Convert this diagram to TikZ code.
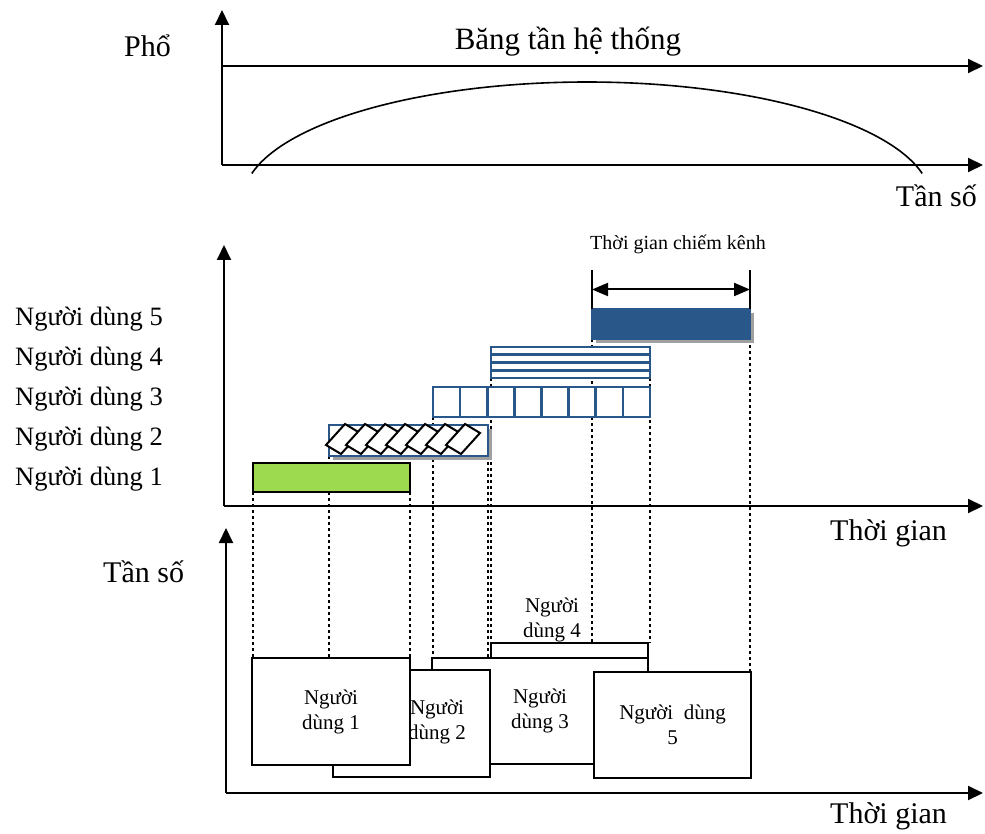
\documentclass[tikz,border=0pt]{standalone}
\usepackage{fontspec}
\setmainfont{Liberation Serif}
\usetikzlibrary{arrows.meta,calc,shadows}
\definecolor{barblue}{RGB}{42,87,137}
\definecolor{bargreen}{RGB}{158,218,80}
\definecolor{shadowgray}{RGB}{160,160,160}
\pgfdeclarelayer{background}
\pgfsetlayers{background,main}
\newcommand\bigfont{\fontsize{30}{36}\selectfont}
\newcommand\titlefont{\fontsize{31}{37}\selectfont}
\newcommand\lblfont{\fontsize{26.5}{32}\selectfont}
\newcommand\boxfont{\fontsize{21}{25}\selectfont}
\newcommand\dimfont{\fontsize{20}{24}\selectfont}
\begin{document}
\begin{tikzpicture}[x=1pt,y=-1pt,
  axis/.style={line width=2pt,-{Triangle[length=15pt,width=14pt]}},
  guide/.style={line width=2.2pt,dash pattern=on 3pt off 3pt},
  barbox/.style={draw=barblue,line width=2.6pt,fill=white,inner sep=0pt,outer sep=0pt,anchor=north west},
  cellline/.style={draw=barblue,line width=2.6pt},
  shadowed/.style={drop shadow={shadow xshift=4pt,shadow yshift=-4pt,fill=shadowgray,opacity=1}},
  userbox/.style={draw,line width=2pt,fill=white,inner sep=0pt,outer sep=0pt,anchor=north west,align=center,font=\boxfont},
  boxtext/.style={inner sep=0pt,align=center,font=\boxfont},
  lbl/.style={inner sep=0pt,anchor=base west,font=\lblfont},
  big/.style={inner sep=0pt,font=\bigfont},
  dimarrow/.style={line width=2pt,{Triangle[length=16pt,width=13pt]}-{Triangle[length=16pt,width=13pt]}}
]
\useasboundingbox (0,0) rectangle (985,834);

% ---------- spectrum panel ----------
\coordinate (o1) at (222,165);
\coordinate (y1) at (222,10);
\coordinate (x1) at (983,165);
\coordinate (band0) at (222,66);
\coordinate (band1) at (983,66);
\draw[axis] (o1) -- (y1);
\draw[axis] (o1) -- (x1);
\draw[axis] (band0) -- (band1);
\draw[line width=1.6pt] plot[domain=-77:77,samples=90,smooth]
  ({587+344*sin(\x)},{200-118*cos(\x)});
\node[big,anchor=base west] (pho) at (124,57) {Phổ};
\node[inner sep=0pt,font=\titlefont,anchor=base] (band) at (568,50) {Băng tần hệ thống};
\node[big,anchor=base east] (f1) at (977,207) {Tần số};

% ---------- channel occupancy panel ----------
\coordinate (o2) at (224,506);
\coordinate (y2) at (224,245);
\coordinate (x2) at (983,506);
\draw[axis] (o2) -- (y2);
\draw[axis] (o2) -- (x2);
\node[big,anchor=base west] (t2) at (830,540) {Thời gian};

\node[lbl] (l5) at (15,325) {Người dùng 5};
\node[lbl] (l4) at (15,365) {Người dùng 4};
\node[lbl] (l3) at (15,405) {Người dùng 3};
\node[lbl] (l2) at (15,445) {Người dùng 2};
\node[lbl] (l1) at (15,485) {Người dùng 1};

% user 1: solid green
\node[barbox,draw=black,line width=2pt,fill=bargreen,minimum width=157pt,minimum height=29pt] (bar1) at (253,463) {};
% user 2: tilted tiles
\node[barbox,shadowed,minimum width=159pt,minimum height=31pt] (bar2) at (329,425) {};
\foreach \i in {0,...,6}
  \draw[line width=2pt,fill=white,shift={({343+20*\i},439)}]
    (-17,6) -- (2,-15) -- (17,-6) -- (-2,15) -- cycle;
% user 3: cells
\node[barbox,minimum width=217pt,minimum height=30pt] (bar3) at (433,387) {};
\foreach \k in {1,...,7}
  \draw[cellline] ($(bar3.north west)!\k/8!(bar3.north east)$) -- ($(bar3.south west)!\k/8!(bar3.south east)$);
% user 4: stripes
\node[barbox,minimum width=159pt,minimum height=31pt] (bar4) at (491,347) {};
\foreach \k in {1,...,3}
  \draw[cellline] ($(bar4.north west)!\k/4!(bar4.south west)$) -- ($(bar4.north east)!\k/4!(bar4.south east)$);
% user 5: solid blue
\node[barbox,shadowed,fill=barblue,minimum width=158pt,minimum height=30pt] (bar5) at (592,309) {};

% channel holding time
\coordinate (dimL) at (592,270);
\coordinate (dimR) at (750,270);
\draw[line width=2pt] (bar5.north west) -- (dimL);
\draw[line width=2pt] (bar5.north east) -- (dimR);
\draw[dimarrow] ($(bar5.north west)!0.5!(dimL)$) -- ($(bar5.north east)!0.5!(dimR)$);
\node[inner sep=0pt,font=\dimfont,anchor=base] (hold) at (678,250) {Thời gian chiếm kênh};

% ---------- time-frequency panel ----------
\coordinate (o3) at (226,793);
\coordinate (y3) at (226,528);
\coordinate (x3) at (983,793);
\draw[axis] (o3) -- (y3);
\draw[axis] (o3) -- (x3);
\node[big,anchor=base west] (f3) at (103,582) {Tần số};
\node[big,anchor=base west] (t3) at (830,823) {Thời gian};

\node[userbox,minimum width=157pt,minimum height=60pt] (box4) at (491,643) {};
\node[userbox,minimum width=216pt,minimum height=106pt] (box3) at (432,658) {Người\\dùng 3};
\node[userbox,minimum width=157pt,minimum height=107pt] (box2) at (333,670) {};
\node[boxtext] (u2) at (437,722) {Người\\dùng 2};
\node[userbox,minimum width=158pt,minimum height=107pt] (box1) at (252,658) {Người\\ dùng 1};
\node[userbox,minimum width=157pt,minimum height=106pt] (box5) at (594,672) {Người\ \ dùng\\5};
\node[boxtext] (u4) at (552,620) {Người\\dùng 4};

% dotted guides from the bars down to the blocks
\begin{pgfonlayer}{background}
  \draw[guide] (bar1.south west) -- (bar1.south west |- box1.north);
  \draw[guide] (bar2.south west) -- (bar2.south west |- box1.north);
  \draw[guide] (bar1.south east) -- (bar1.south east |- box1.north);
  \draw[guide] (bar3.south west) -- (bar3.south west |- box3.north);
  \draw[guide] (bar2.south east) -- (bar2.south east |- box2.north);
  \draw[guide] (bar4.south west) -- (bar4.south west |- box4.north);
  \draw[guide] (bar5.south west) -- (bar5.south west |- box4.north);
  \draw[guide] (bar4.south east) -- (bar4.south east |- box4.north);
  \draw[guide] (bar5.south east) -- (bar5.south east |- box5.north);
\end{pgfonlayer}
\end{tikzpicture}
\end{document}
